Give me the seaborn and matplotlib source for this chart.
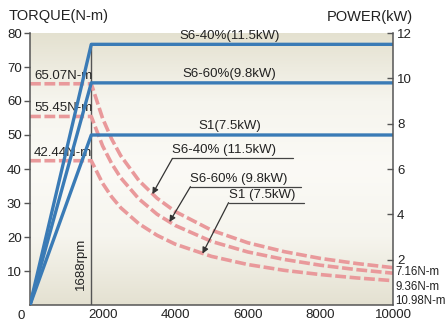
import numpy as np
import pandas as pd
import matplotlib
matplotlib.use('Agg')
import matplotlib.pyplot as plt
from matplotlib.colors import LinearSegmentedColormap
import seaborn as sns

sns.set_style('white')
plt.rcParams['font.family'] = ['Liberation Sans', 'DejaVu Sans']

# rated modes and power (kW)
modes = ['S6-40%', 'S6-60%', 'S1']
power_kw = [11.5, 9.8, 7.5]
base_rpm = 1688

# torque curves (N-m)
rpm = [0, 1688, 2000, 2250, 2500, 3000, 3500, 4000, 5000, 6000, 7000, 8000, 9000, 10000]
torque_s6_40 = [65.07, 65.07, 54.9, 48.8, 43.9, 36.6, 31.4, 27.5, 22.0, 18.3, 15.7, 13.7, 12.2, 10.98]
torque_s6_60 = [55.45, 55.45, 46.8, 41.6, 37.4, 31.2, 26.7, 23.4, 18.7, 15.6, 13.4, 11.7, 10.4, 9.36]
torque_s1 = [42.44, 42.44, 35.8, 31.8, 28.6, 23.9, 20.5, 17.9, 14.3, 11.9, 10.2, 8.95, 7.96, 7.16]
end_labels = ['7.16N-m', '9.36N-m', '10.98N-m']

# power curves (kW)
power_rpm = [0, 1688, 10000]
power_s6_40 = [0, 11.5, 11.5]
power_s6_60 = [0, 9.8, 9.8]
power_s1 = [0, 7.5, 7.5]

blue = '#3a7bb6'
pink = '#e9999b'
txt = '#222222'
fs = 9.5

torque_df = pd.DataFrame({'rpm': rpm * 3,
                          'torque': torque_s6_40 + torque_s6_60 + torque_s1,
                          'mode': sum([[m] * len(rpm) for m in modes], [])})
power_df = pd.DataFrame({'rpm': power_rpm * 3,
                         'power': power_s6_40 + power_s6_60 + power_s1,
                         'mode': sum([[m] * len(power_rpm) for m in modes], [])})

fig = plt.figure(figsize=(4.47, 3.25), dpi=100)
ax = fig.add_axes([30 / 447, 1 - 305 / 325, 363 / 447, 272 / 325])

# background gradient
cmap = LinearSegmentedColormap.from_list('bg', ['#e4e1d1', '#f6f5ee', '#fbfaf6', '#f6f5ee', '#e4e1d0'])
grad = np.linspace(0, 1, 256).reshape(-1, 1)
ax.imshow(grad, aspect='auto', cmap=cmap, extent=[0, 10000, 80, 0], zorder=0)

sns.lineplot(data=torque_df, x='rpm', y='torque', hue='mode', ax=ax,
             palette=[pink] * 3, lw=2.6, legend=False, zorder=2)
for line in ax.get_lines():
    line.set_dashes((3, 1))
    line.set_dash_capstyle('butt')

ax.axvline(base_rpm, ymin=0, ymax=power_kw[0] / 12, color='#555555', lw=1.0, zorder=1)
ax.text(base_rpm - 120, 12, f'{base_rpm}rpm', rotation=90, ha='right', va='center',
        fontsize=fs, color=txt)

ax.set_xlim(0, 10000)
ax.set_ylim(0, 80)
ax.set_xticks(range(0, 10001, 2000))
ax.set_xticklabels([''] + [str(v) for v in range(2000, 10001, 2000)])
ax.set_xticks(range(1000, 10000, 2000), minor=True)
ax.set_yticks(range(10, 81, 10))
ax.tick_params(axis='x', which='both', direction='in', length=5, width=1, color='#555555',
               labelsize=fs, labelcolor=txt, pad=3)
ax.tick_params(axis='y', direction='out', length=4, width=1, color='#555555',
               labelsize=fs, labelcolor=txt, pad=2)
ax.text(-150, -1.5, '0', ha='right', va='top', fontsize=fs, color=txt)
ax.set_xlabel('')
ax.set_ylabel('')
for s in ['left', 'bottom']:
    ax.spines[s].set_color('#555555')
    ax.spines[s].set_linewidth(1.1)
ax.spines['top'].set_visible(False)
ax.spines['right'].set_visible(False)

# torque labels
for t, m in zip([torque_s6_40[0], torque_s6_60[0], torque_s1[0]], modes):
    ax.text(110, t + 0.6, f'{t:.2f}N-m', ha='left', va='bottom', fontsize=fs, color=txt)

# annotations with leader lines
ann = [('S6-40% (11.5kW)', 3923, 43.1, 7238, 3370, 32.6),
       ('S6-60% (9.8kW)', 4420, 34.8, 7459, 3840, 24.4),
       ('S1 (7.5kW)', 5470, 30.1, 7541, 4750, 15.1)]
for label, x0, y0, x1, xt, yt in ann:
    ax.plot([x0, x1], [y0, y0], color='#444444', lw=0.9, zorder=3)
    ax.annotate('', xy=(xt, yt), xytext=(x0, y0),
                arrowprops=dict(arrowstyle='-|>', color='#333333', lw=0.9,
                                mutation_scale=9, shrinkA=0, shrinkB=0), zorder=3)
    ax.text(x0, y0 + 0.6, label, ha='left', va='bottom', fontsize=fs, color=txt)

# power axis
ax2 = ax.twinx()
sns.lineplot(data=power_df, x='rpm', y='power', hue='mode', ax=ax2,
             palette=[blue] * 3, lw=2.4, legend=False)
ax2.set_ylim(0, 12)
ax2.set_yticks(range(2, 13, 2))
ax2.tick_params(axis='y', direction='in', length=4, width=1, color='#555555',
                labelsize=fs, labelcolor=txt, pad=3)
ax2.set_ylabel('')
ax2.spines['right'].set_color('#555555')
ax2.spines['right'].set_linewidth(1.1)
for s in ['top', 'left', 'bottom']:
    ax2.spines[s].set_visible(False)

top_labels = ['S6-40%(11.5kW)', 'S6-60%(9.8kW)', 'S1(7.5kW)']
for p, lab in zip(power_kw, top_labels):
    ax2.text(5500, p + 0.12, lab, ha='center', va='bottom', fontsize=fs, color=txt)

for i, lab in enumerate(end_labels):
    ax2.text(1.006, 0.121 - i * 0.0535, lab, transform=ax2.transAxes, ha='left', va='center',
             fontsize=8.3, color=txt)

fig.text(9 / 447, 1 - 16 / 325, 'TORQUE(N-m)', ha='left', va='center', fontsize=10.5, color=txt)
fig.text(413 / 447, 1 - 17 / 325, 'POWER(kW)', ha='right', va='center', fontsize=10.5, color=txt)

fig.savefig('out.png', dpi=100)
